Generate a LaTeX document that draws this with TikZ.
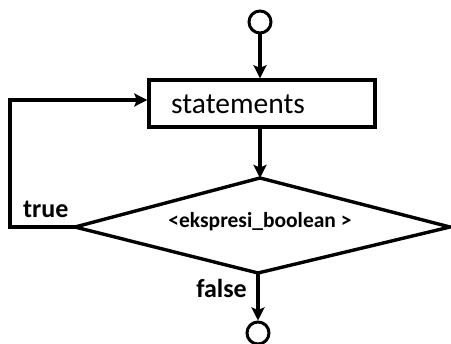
\documentclass[tikz,border=0pt]{standalone}
\usepackage{fontspec}
\setmainfont{Carlito}
\usetikzlibrary{arrows.meta,shapes.geometric}
\begin{document}
\begin{tikzpicture}[x=1pt,y=-1pt,
  line/.style={line width=3.4pt},
  flow/.style={line, -{Stealth[length=13pt,width=13pt,inset=2.5pt]}},
  term/.style={circle, draw, line width=3pt, minimum size=22pt, inner sep=0pt},
  lbl/.style={font=\fontsize{26}{30}\selectfont\bfseries, inner sep=0pt}
]
\useasboundingbox (0,0) rectangle (451,344);
% start and end terminals
\node[term] (start) at (260,22) {};
\node[term] (stop) at (258,333) {};
% loop body
\node[draw, line, minimum width=226pt, minimum height=47pt, inner sep=0pt] (body) at (262,103.5) {};
\node[anchor=base west, inner sep=0pt, font=\fontsize{29.5}{34}\selectfont] (stm) at (171,114) {statements};
% loop condition
\coordinate (dt) at (260,178);
\coordinate (dl) at (75,227);
\coordinate (dr) at (450,227);
\coordinate (db) at (258,273);
\draw[line, line join=miter] (dt) -- (dr) -- (db) -- (dl) -- cycle;
\node[font=\fontsize{21.5}{25}\selectfont\bfseries, inner sep=0pt] (cond) at (260,222) {<ekspresi\_boolean >};
% connectors
\draw[flow] (start) -- (body.north -| start);
\draw[flow] (body.south -| dt) -- (dt);
\coordinate (lb) at (10,227);
\coordinate (lt) at (10,100);
\draw[flow] (dl) -- (lb) -- (lt) -- (lt -| body.west);
\draw[flow] (db) -- (stop);
% branch labels
\node[lbl, anchor=base west] (t) at (23,218) {true};
\node[lbl, anchor=base east] (f) at (247,298) {false};
\end{tikzpicture}
\end{document}
